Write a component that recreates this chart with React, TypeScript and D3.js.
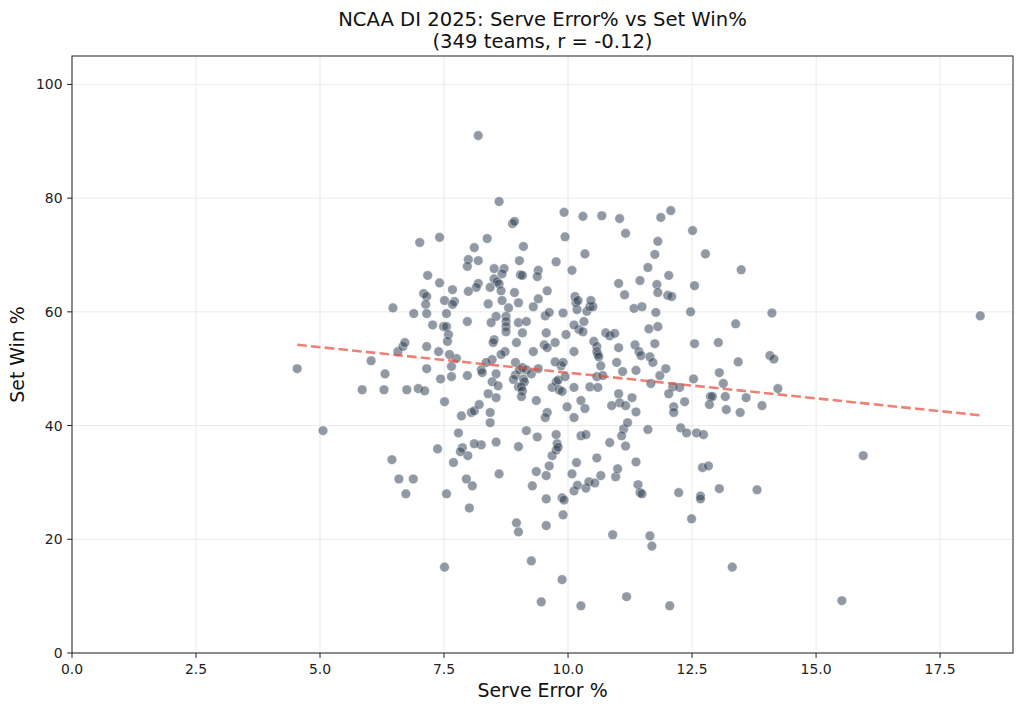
import React from "react";
import * as d3 from "d3";

const TITLE_LINE1 = "NCAA DI 2025: Serve Error% vs Set Win%";
const TITLE_LINE2 = "(349 teams, r = -0.12)";
const X_LABEL = "Serve Error %";
const Y_LABEL = "Set Win %";

const xTicks = [0, 2.5, 5, 7.5, 10, 12.5, 15, 17.5];
const yTicks = [0, 20, 40, 60, 80, 100];

// trend line (least-squares fit as drawn in the reference)
const trendSlope = -0.9;
const trendIntercept = 58.29;

// [serve error %, set win %] per team
const teamsLeft: [number, number][] = [
  [4.54, 50.0], [5.06, 39.1], [5.85, 46.3], [6.03, 51.4], [6.31, 49.1], [6.29, 46.3],
  [6.75, 46.3], [6.98, 46.5], [6.57, 53.0], [6.67, 53.9], [6.71, 54.6], [6.45, 34.0],
  [6.59, 30.6], [6.88, 30.6], [6.73, 28.0],
];

const teamsUpperLeft: [number, number][] = [
  [8.19, 91.0], [8.61, 79.4], [7.01, 72.2], [7.41, 73.1], [8.37, 72.9], [8.11, 71.3],
  [7.99, 69.2], [8.19, 69.0], [7.97, 68.0], [8.51, 67.6], [8.71, 67.6], [8.67, 66.7],
  [7.17, 66.4], [7.41, 65.1], [8.51, 65.8], [8.57, 65.3], [8.61, 64.9], [8.19, 65.0],
  [8.15, 64.3], [7.99, 63.6], [8.43, 64.3], [8.65, 63.7], [7.67, 63.9], [7.09, 63.2],
  [7.15, 62.7], [7.71, 61.8], [6.47, 60.7], [6.89, 59.7],
];

const teamsCenterLeft: [number, number][] = [
  [7.13, 61.3], [7.51, 62.0], [7.67, 61.3], [7.15, 59.7], [7.55, 59.7], [7.27, 57.7],
  [7.49, 57.4], [7.55, 57.4], [7.59, 56.0], [7.57, 54.8], [7.97, 58.3], [8.39, 61.4],
  [8.67, 62.0], [8.8, 60.7], [8.55, 59.2], [8.45, 58.1], [8.75, 59.2], [8.75, 58.3],
  [8.75, 57.4], [8.75, 56.5], [9.0, 61.6], [9.0, 58.1], [9.16, 58.3], [9.08, 56.3],
  [9.3, 60.9], [9.54, 59.3], [9.62, 59.9], [9.9, 59.8], [9.56, 56.3], [9.96, 56.0],
  [9.74, 54.6], [9.52, 54.2], [9.58, 53.7], [9.3, 53.0], [8.96, 54.6], [8.51, 55.1],
  [8.49, 54.6], [8.73, 53.0], [8.65, 52.5], [8.47, 51.6], [8.35, 51.1], [8.25, 49.8],
  [8.27, 49.3], [8.94, 51.1], [8.55, 49.1], [8.47, 47.7], [8.59, 47.0], [8.39, 45.6],
  [8.55, 44.9], [8.94, 48.9], [8.9, 48.1], [9.02, 49.8], [9.08, 50.2], [9.16, 49.8],
  [9.26, 49.1], [9.1, 48.2], [9.12, 47.7], [9.0, 46.8], [9.06, 46.8], [9.08, 46.1],
  [9.06, 45.1], [9.4, 50.0], [9.36, 44.4], [9.68, 46.7], [9.76, 47.7], [9.8, 48.0],
  [9.82, 46.3], [9.88, 46.0], [9.94, 48.6], [9.86, 50.5], [9.9, 51.1], [9.74, 51.2],
  [9.98, 43.3], [9.58, 42.3], [9.54, 41.4], [9.76, 38.4], [9.38, 38.0], [9.16, 39.1],
  [9.78, 36.8], [9.0, 36.3], [8.55, 37.1], [8.25, 36.6], [8.11, 36.8], [7.87, 36.1],
  [7.37, 35.9], [7.79, 38.7], [7.85, 41.7], [8.05, 42.3], [8.11, 42.6], [8.21, 43.7],
  [8.43, 42.3], [8.43, 40.5], [7.51, 44.2], [7.43, 48.2], [7.65, 48.6], [7.65, 50.4],
  [7.97, 48.8], [7.75, 51.8], [7.61, 52.5], [7.39, 53.0], [7.15, 53.9], [7.15, 50.0],
  [7.11, 46.1],
];

const teamsLowerLeft: [number, number][] = [
  [7.98, 34.7], [7.83, 35.4], [7.69, 33.5], [7.95, 30.6], [8.07, 29.4], [7.55, 28.0],
  [8.01, 25.5], [8.61, 31.5], [8.96, 22.9], [9.0, 21.3], [9.28, 29.4], [9.36, 31.9],
  [9.56, 31.2], [9.56, 22.4], [9.56, 27.1], [9.62, 32.9], [9.68, 34.7], [9.76, 35.7],
  [9.8, 36.2], [9.88, 27.3], [9.92, 26.9], [9.9, 24.3], [10.08, 31.5], [10.12, 28.5],
  [7.51, 15.1], [9.26, 16.2], [9.88, 12.9], [9.46, 9.0], [10.26, 8.3],
];

const teamsLowerRight: [number, number][] = [
  [10.17, 33.5], [10.58, 34.3], [10.19, 29.5], [10.36, 29.0], [10.42, 30.1], [10.54, 29.9],
  [10.66, 31.2], [10.96, 31.0], [11.0, 32.4], [11.37, 33.6], [11.41, 29.6], [11.45, 28.2],
  [11.49, 28.0], [12.23, 28.2], [12.71, 32.6], [12.83, 32.9], [12.67, 27.6], [12.67, 27.1],
  [13.05, 28.9], [12.49, 23.6], [10.9, 20.8], [11.65, 20.6], [11.69, 18.8], [13.31, 15.1],
  [11.18, 9.9], [12.05, 8.3],
];

const teamsCenterRight: [number, number][] = [
  [10.18, 60.4], [10.38, 60.1], [10.44, 60.9], [10.5, 60.9], [10.46, 62.0], [10.16, 61.6],
  [10.32, 58.3], [10.22, 56.9], [10.3, 56.5], [10.12, 57.7], [10.76, 56.3], [10.84, 55.8],
  [10.94, 56.2], [11.33, 60.6], [11.49, 60.9], [11.77, 59.9], [11.63, 57.0], [11.81, 57.4],
  [12.47, 60.0], [13.38, 57.9], [10.52, 54.8], [10.58, 53.9], [10.58, 53.0], [10.6, 52.5],
  [10.62, 52.1], [10.12, 53.0], [11.02, 53.7], [11.35, 54.2], [11.43, 53.0], [11.47, 52.3],
  [11.75, 54.4], [11.65, 52.1], [11.71, 51.1], [12.55, 54.4], [13.03, 54.6], [10.66, 50.5],
  [10.98, 51.1], [11.1, 49.5], [11.37, 49.7], [10.58, 48.6], [10.7, 48.8], [10.12, 46.7],
  [10.44, 46.8], [10.6, 46.7], [11.85, 48.8], [11.97, 50.0], [11.67, 47.4], [12.53, 48.2],
  [13.05, 49.3], [13.13, 47.4], [12.11, 46.8], [12.25, 46.7], [12.03, 45.6], [11.02, 45.6],
  [11.04, 44.0], [11.16, 43.5], [11.29, 44.9], [10.88, 43.5], [10.26, 44.4], [10.34, 43.0],
  [10.12, 41.4], [11.37, 42.4], [12.13, 43.3], [12.13, 42.3], [12.35, 44.2], [12.87, 45.1],
  [12.91, 45.1], [12.85, 43.7], [13.17, 45.1], [13.19, 42.8], [10.26, 38.2], [10.36, 38.4],
  [11.12, 39.4], [11.2, 40.5], [11.08, 38.2], [10.84, 37.0], [11.16, 36.4], [11.61, 39.3],
  [12.27, 39.6], [12.39, 38.7], [12.59, 38.7], [12.73, 38.4],
];

const teamsUpperRight: [number, number][] = [
  [8.88, 75.5], [8.92, 75.9], [9.92, 77.5], [10.3, 76.8], [10.68, 76.9], [11.04, 76.4],
  [11.16, 73.8], [9.94, 73.2], [9.1, 71.5], [10.34, 70.2], [9.02, 69.0], [9.76, 68.8],
  [9.04, 66.5], [9.08, 66.4], [9.4, 67.3], [9.38, 66.2], [10.08, 67.3], [11.02, 65.0],
  [11.14, 63.0], [8.92, 63.4], [9.58, 63.7], [9.4, 62.3], [10.14, 62.7], [10.2, 62.0],
  [12.07, 77.8], [11.87, 76.6], [12.51, 74.3], [11.81, 72.4], [11.75, 70.1], [12.77, 70.2],
  [11.61, 67.8], [13.49, 67.4], [12.03, 66.4], [11.45, 65.5], [11.79, 64.8], [12.55, 64.6],
  [11.81, 63.4], [12.01, 62.9], [12.09, 62.7],
];

const teamsRight: [number, number][] = [
  [14.11, 59.8], [13.43, 51.2], [14.07, 52.3], [14.15, 51.7], [13.47, 42.3], [13.59, 44.9],
  [13.91, 43.5], [14.23, 46.5], [15.95, 34.7], [13.81, 28.7], [15.52, 9.2], [18.31, 59.3],
];

const teams: [number, number][] = [
  ...teamsLeft, ...teamsUpperLeft, ...teamsCenterLeft, ...teamsLowerLeft,
  ...teamsLowerRight, ...teamsCenterRight, ...teamsUpperRight, ...teamsRight,
];

const W = 1024;
const H = 711;
const M = { left: 72, right: 1013, top: 56, bottom: 653 };
const FONT = "'DejaVu Sans', sans-serif";

export default function App() {
  const x = d3.scaleLinear().domain([0, 18.97]).range([M.left, M.right]);
  const y = d3.scaleLinear().domain([0, 105]).range([M.bottom, M.top]);
  const xExt = d3.extent(teams, (d) => d[0]) as [number, number];
  const trend = d3
    .line<number>()
    .x((v) => x(v))
    .y((v) => y(trendIntercept + trendSlope * v));

  return (
    <svg
      width={W}
      height={H}
      style={{ position: "absolute", left: 0, top: 0, background: "#fff" }}
      fontFamily={FONT}
    >
      <rect x={0} y={0} width={W} height={H} fill="#fff" />
      {/* grid */}
      <g stroke="#e6e6e6" strokeWidth={0.8}>
        {xTicks.map((t) => (
          <line key={"gx" + t} x1={x(t)} x2={x(t)} y1={M.top} y2={M.bottom} />
        ))}
        {yTicks.map((t) => (
          <line key={"gy" + t} x1={M.left} x2={M.right} y1={y(t)} y2={y(t)} />
        ))}
      </g>
      {/* points */}
      <g>
        {teams.map((d, i) => (
          <circle
            key={i}
            cx={x(d[0])}
            cy={y(d[1])}
            r={4.8}
            fill="#2c3e50"
            fillOpacity={0.52}
            stroke="#ffffff"
            strokeOpacity={0.6}
            strokeWidth={0.6}
          />
        ))}
      </g>
      {/* trend */}
      <path
        d={trend([xExt[0], xExt[1]]) || ""}
        fill="none"
        stroke="#e74c3c"
        strokeOpacity={0.7}
        strokeWidth={2.6}
        strokeDasharray="9.6,4.2"
      />
      {/* frame */}
      <rect
        x={M.left}
        y={M.top}
        width={M.right - M.left}
        height={M.bottom - M.top}
        fill="none"
        stroke="#222"
        strokeWidth={1}
      />
      {/* ticks */}
      <g fontSize={13.9} fill="#222">
        {xTicks.map((t) => (
          <g key={"xt" + t}>
            <line x1={x(t)} x2={x(t)} y1={M.bottom} y2={M.bottom + 4.9} stroke="#222" />
            <text x={x(t)} y={M.bottom + 20.5} textAnchor="middle">
              {t.toFixed(1)}
            </text>
          </g>
        ))}
        {yTicks.map((t) => (
          <g key={"yt" + t}>
            <line x1={M.left - 4.9} x2={M.left} y1={y(t)} y2={y(t)} stroke="#222" />
            <text x={M.left - 9.5} y={y(t)} dy="0.36em" textAnchor="end">
              {t}
            </text>
          </g>
        ))}
      </g>
      <text x={(M.left + M.right) / 2} y={697} textAnchor="middle" fontSize={18.9} fill="#111">
        {X_LABEL}
      </text>
      <text
        transform={`translate(24, ${(M.top + M.bottom) / 2}) rotate(-90)`}
        textAnchor="middle"
        fontSize={18.9}
        fill="#111"
      >
        {Y_LABEL}
      </text>
      <text x={(M.left + M.right) / 2} y={26} textAnchor="middle" fontSize={19.6} fill="#111">
        {TITLE_LINE1}
      </text>
      <text x={(M.left + M.right) / 2} y={47.5} textAnchor="middle" fontSize={19.6} fill="#111">
        {TITLE_LINE2}
      </text>
    </svg>
  );
}
